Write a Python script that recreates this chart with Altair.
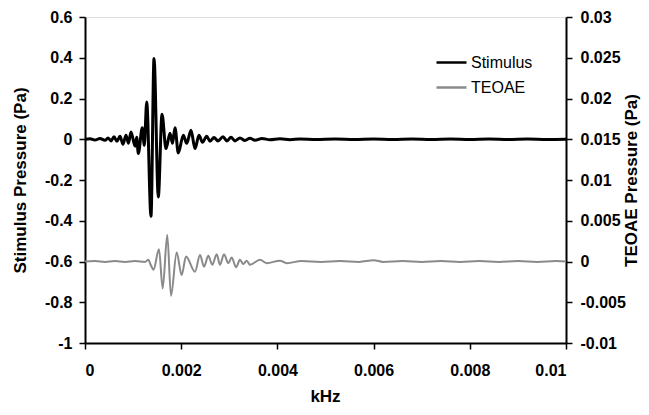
import altair as alt
import pandas as pd

# Stimulus waveform (left axis, Pa)
stim_t = [0, 0.000104, 0.000208, 0.000312, 0.000416, 0.000478, 0.000541, 0.000603, 0.000665,
          0.000728, 0.00079, 0.000852, 0.000904, 0.000956, 0.00104, 0.001075, 0.001108, 0.001191,
          0.001233, 0.001283, 0.001372, 0.001435, 0.001524, 0.001601, 0.001684, 0.001767, 0.001819,
          0.001871, 0.00194, 0.002044, 0.002114, 0.002204, 0.002287, 0.00237, 0.002443, 0.00253,
          0.002599, 0.002682, 0.002765, 0.002869, 0.002952, 0.003035, 0.003119, 0.003222, 0.003326,
          0.00343, 0.003534, 0.00368, 0.003846, 0.004054, 0.004262, 0.00447, 0.0048, 0.0052,
          0.0056, 0.006, 0.0064, 0.0068, 0.0072, 0.0076, 0.008, 0.0084, 0.0088, 0.0092, 0.0096, 0.01]
stim_v = [0, 0.003, -0.004, 0.004, -0.005, 0.006, -0.008, 0.012, -0.01,
          0.015, -0.025, 0.02, -0.02, 0.036, -0.034, 0.01, -0.07, 0.057,
          -0.03, 0.183, -0.378, 0.396, -0.283, 0.123, -0.046, 0.03, -0.02,
          0.057, -0.067, 0.02, -0.02, 0.044, -0.046, 0.02, -0.015, 0.015,
          -0.01, 0.008, -0.008, 0.012, -0.008, 0.01, -0.008, 0.006, -0.006,
          0.005, -0.005, 0.004, -0.003, 0.002, -0.002, 0.001, -0.001, 0.001,
          -0.001, 0.001, -0.001, 0.001, -0.001, 0.001, -0.001, 0.001, -0.001, 0.001, -0.001, 0]

# TEOAE waveform (right axis, Pa)
oae_t = [0, 0.000208, 0.000416, 0.000624, 0.000832, 0.00104, 0.001247, 0.001316, 0.001372,
         0.001424, 0.001538, 0.001615, 0.00171, 0.001788, 0.001906, 0.002009, 0.0021, 0.002287,
         0.002391, 0.002474, 0.002563, 0.002647, 0.002738, 0.002807, 0.00289, 0.002979, 0.00305,
         0.003139, 0.003222, 0.003291, 0.003362, 0.00343, 0.003638, 0.003778, 0.004054, 0.004193,
         0.0045, 0.0049, 0.0053, 0.0057, 0.006, 0.0062, 0.0066, 0.007, 0.0074, 0.0078, 0.0082,
         0.0086, 0.009, 0.0094, 0.0098, 0.01]
oae_v = [0, 0.00005, -0.00005, 0.00005, -0.00005, 0.00005, -0.00005, 0.0002, -0.0005,
         -0.001, 0.0015, -0.0033, 0.00325, -0.0042, 0.0011, -0.00166, 0.0006, -0.00125,
         0.0008, -0.00064, 0.0007, -0.0004, 0.0009, -0.0004, 0.0009, -0.0002, 0.0005,
         -0.0007, 0.0002, -0.0003, 0.0001, -0.0004, 0.0002, -0.0002, 0.0001, -0.0002,
         0.00005, -0.00005, 0.00005, -0.00005, 0.00015, -0.00005, 0.00005, -0.00005, 0.00005,
         -0.00005, 0.00005, -0.00005, 0.00005, -0.00005, 0.00005, 0]

series_names = ["Stimulus", "TEOAE"]
series_colors = ["#000000", "#8a8a8a"]

x_ticks = [0, 0.002, 0.004, 0.006, 0.008, 0.01]
left_ticks = [0.6, 0.4, 0.2, 0, -0.2, -0.4, -0.6, -0.8, -1]
right_ticks = [0.03, 0.025, 0.02, 0.015, 0.01, 0.005, 0, -0.005, -0.01]

stim = pd.DataFrame({"t": stim_t, "v": stim_v, "series": series_names[0]})
oae = pd.DataFrame({"t": oae_t, "v": oae_v, "series": series_names[1]})

FONT = "Liberation Sans"
axis_common = dict(
    labelFont=FONT, labelFontSize=16, labelFontWeight="bold", labelColor="#000",
    titleFont=FONT, titleFontSize=17, titleFontWeight="bold", titleColor="#000",
    domainColor="#000", domainWidth=2, tickColor="#000", tickWidth=1.5, tickSize=6,
    grid=False, labelExpr="replace(datum.label, '\u2212', '-')",
)

x_enc = alt.X(
    "t:Q",
    scale=alt.Scale(domain=[0, 0.01], nice=False, zero=False),
    axis=alt.Axis(values=x_ticks, format=".3~f", title="kHz", labelPadding=13,
                  titleX=240, titleY=62, titleBaseline="bottom", titleAlign="center",
                  **axis_common),
)

color = alt.Color(
    "series:N",
    scale=alt.Scale(domain=series_names, range=series_colors),
    legend=alt.Legend(
        title=None, orient="none", legendX=350, legendY=29,
        symbolType="stroke", symbolSize=900, symbolStrokeWidth=2.5,
        labelFont=FONT, labelFontSize=16, labelColor="#000", labelOffset=3,
        rowPadding=0,
    ),
)

stim_line = alt.Chart(stim).mark_line(strokeWidth=3, interpolate="monotone").encode(
    x=x_enc,
    y=alt.Y("v:Q", scale=alt.Scale(domain=[-1, 0.6], nice=False, zero=False),
            axis=alt.Axis(values=left_ticks, format=".1~f", title="Stimulus Pressure (Pa)",
                          orient="left", labelPadding=7, titleAngle=270,
                          titleX=-65, titleY=163, titleAlign="center", titleBaseline="middle",
                          **axis_common)),
    color=color,
)

oae_line = alt.Chart(oae).mark_line(strokeWidth=2, interpolate="monotone").encode(
    x=x_enc,
    y=alt.Y("v:Q", scale=alt.Scale(domain=[-0.01, 0.03], nice=False, zero=False),
            axis=alt.Axis(values=right_ticks, format=".3~f", title="TEOAE Pressure (Pa)",
                          orient="right", labelPadding=8, titleAngle=270,
                          titleX=65, titleY=163, titleAlign="center", titleBaseline="middle",
                          **axis_common)),
    color=color,
)

chart = alt.layer(stim_line, oae_line).resolve_scale(y="independent").properties(
    width=481, height=326,
    autosize=alt.AutoSizeParams(type="none"),
    padding={"left": 77, "top": 9, "right": 75, "bottom": 64},
).configure_view(stroke=None).configure(background="white")

chart.save("out.html", embed_options={"renderer": "svg", "actions": False})
